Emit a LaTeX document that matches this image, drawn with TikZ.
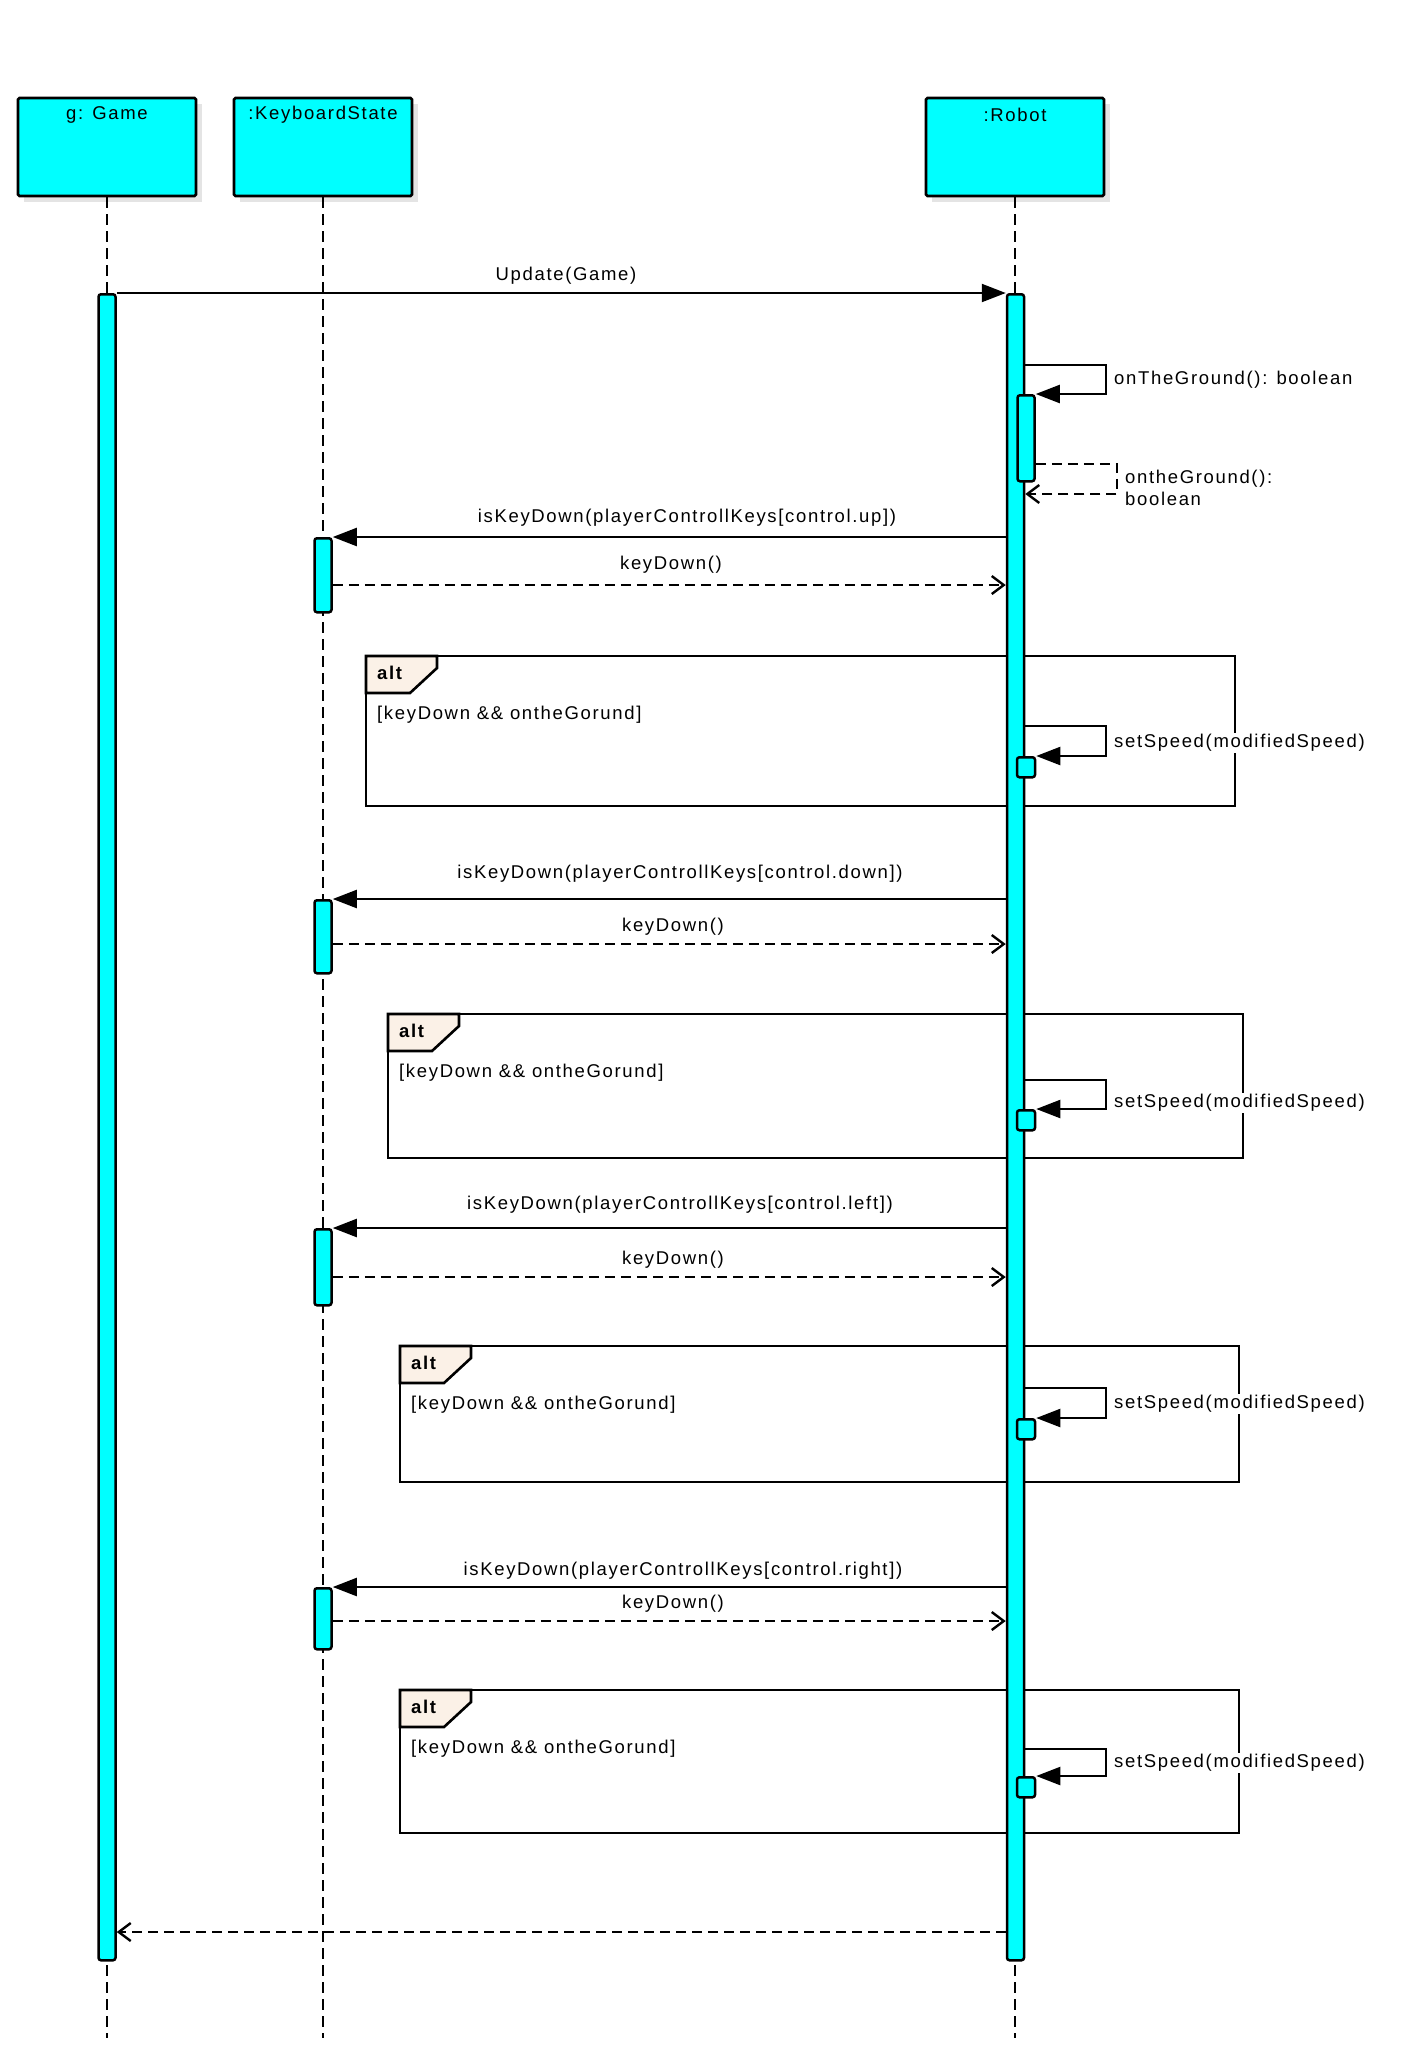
\documentclass[tikz,border=0pt]{standalone}
\usepackage{fontspec}
\setmainfont{Liberation Sans}[LetterSpace=9]
\usetikzlibrary{arrows.meta}
\newcommand\dfont{\fontsize{18.5}{22}\selectfont}
\definecolor{cy}{HTML}{00FFFF}
\definecolor{tabc}{HTML}{FBF1E7}
\definecolor{shc}{HTML}{E4E4E4}
\begin{document}
\begin{tikzpicture}[x=1pt,y=-1pt,
 head/.style={draw, line width=2.7pt, fill=cy, minimum width=178pt, minimum height=98pt, rounded corners=1.5pt, inner sep=0pt},
 act/.style={draw, line width=2.5pt, fill=cy, rounded corners=2.5pt, inner sep=0pt, minimum width=17pt},
 life/.style={line width=2.2pt, dash pattern=on 11pt off 6pt},
 msg/.style={line width=2.2pt, -{Triangle[length=24pt,width=18pt]}},
 ret/.style={line width=2.4pt, dash pattern=on 10pt off 6pt, -{Straight Barb[length=12pt,width=18pt,line width=2.4pt]}},
 lbl/.style={inner sep=0pt, font=\dfont},
 slbl/.style={inner sep=1pt, font=\dfont, fill=white, anchor=west},
 frm/.style={line width=2.6pt},
 tab/.style={line width=2.6pt, fill=tabc},
]
\useasboundingbox (0,0) rectangle (1410,2051);
% shadows
\fill[shc] (24,104) rectangle (202,202);
\fill[shc] (240,104) rectangle (418,202);
\fill[shc] (932,104) rectangle (1110,202);
% heads
\node[head] (g) at (107,147) {};
\node[head] (k) at (323,147) {};
\node[head] (r) at (1015,147) {};
\node[lbl] (gt) at (107,115) {g: Game};
\node[lbl] (kt) at (323,115) {:KeyboardState};
\node[lbl] (rt) at (1015,115) {:Robot};
% lifelines
\coordinate (gend) at (107,2038);
\coordinate (kend) at (323,2038);
\coordinate (rend) at (1015,2038);
\draw[life] (g.south) -- (gend);
\draw[life] (k.south) -- (kend);
\draw[life] (r.south) -- (rend);
% frames
\draw[frm] (366,656) rectangle (1235,806);
\draw[tab] (366,656) -- (437,656) -- (437,668) -- (410,693) -- (366,693) -- cycle;
\node[lbl, anchor=west, font=\dfont\bfseries] (f1a) at (377,673) {alt};
\node[lbl, anchor=west] (f1g) at (377,715) {[keyDown \&\& ontheGorund]};
\draw[frm] (388,1014) rectangle (1243,1158);
\draw[tab] (388,1014) -- (459,1014) -- (459,1026) -- (432,1051) -- (388,1051) -- cycle;
\node[lbl, anchor=west, font=\dfont\bfseries] (f2a) at (399,1031) {alt};
\node[lbl, anchor=west] (f2g) at (399,1073) {[keyDown \&\& ontheGorund]};
\draw[frm] (400,1346) rectangle (1239,1482);
\draw[tab] (400,1346) -- (471,1346) -- (471,1358) -- (444,1383) -- (400,1383) -- cycle;
\node[lbl, anchor=west, font=\dfont\bfseries] (f3a) at (411,1363) {alt};
\node[lbl, anchor=west] (f3g) at (411,1405) {[keyDown \&\& ontheGorund]};
\draw[frm] (400,1690) rectangle (1239,1833);
\draw[tab] (400,1690) -- (471,1690) -- (471,1702) -- (444,1727) -- (400,1727) -- cycle;
\node[lbl, anchor=west, font=\dfont\bfseries] (f4a) at (411,1707) {alt};
\node[lbl, anchor=west] (f4g) at (411,1749) {[keyDown \&\& ontheGorund]};
% activations
\node[act, anchor=north, minimum height=1666pt] (ag) at (107,293) {};
\node[act, anchor=north, minimum height=1666pt] (ar) at (1015.5,293) {};
\node[act, anchor=north, minimum height=86pt] (ar2) at (1026,394) {};
\node[act, anchor=north, minimum height=74pt] (k1) at (323,537) {};
\node[act, anchor=north, minimum height=73pt] (k2) at (323,899) {};
\node[act, anchor=north, minimum height=76pt] (k3) at (323,1228) {};
\node[act, anchor=north, minimum height=61pt] (k4) at (323,1587) {};
\node[act, anchor=north, minimum height=20pt, minimum width=18pt] (s1) at (1026,756) {};
\node[act, anchor=north, minimum height=20pt, minimum width=18pt] (s2) at (1026,1109) {};
\node[act, anchor=north, minimum height=20pt, minimum width=18pt] (s3) at (1026,1418) {};
\node[act, anchor=north, minimum height=20pt, minimum width=18pt] (s4) at (1026,1776) {};
% messages
\draw[msg] (ag.east |- 0,293) -- (ar.west |- 0,293);
\node[lbl] (m1) at (566,276) {Update(Game)};
\draw[msg] (ar.east |- 0,365) -- (1106,365) -- (1106,394) -- (ar2.north east);
\node[slbl] (m2) at (1113,380) {onTheGround(): boolean};
\draw[ret] (ar2.east |- 0,464) -- (1117,464) -- (1117,494) -- (ar.east |- 0,494);
\node[lbl, anchor=north west, align=left, fill=white, inner sep=1pt] (m3) at (1124,469) {ontheGround():\\boolean};
% up
\draw[msg] (ar.west |- 0,537) -- (k1.north east);
\node[lbl] (m4) at (687,518) {isKeyDown(playerControllKeys[control.up])};
\draw[ret] (k1.east |- 0,585) -- (ar.west |- 0,585);
\node[lbl] (m5) at (671,565) {keyDown()};
\draw[msg] (ar.east |- 0,726) -- (1106,726) -- (1106,756) -- (s1.north east);
\node[slbl] (m6) at (1113,743) {setSpeed(modifiedSpeed)};
% down
\draw[msg] (ar.west |- 0,899) -- (k2.north east);
\node[lbl] (m7) at (680,874) {isKeyDown(playerControllKeys[control.down])};
\draw[ret] (k2.east |- 0,944) -- (ar.west |- 0,944);
\node[lbl] (m8) at (673,927) {keyDown()};
\draw[msg] (ar.east |- 0,1080) -- (1106,1080) -- (1106,1109) -- (s2.north east);
\node[slbl] (m9) at (1113,1103) {setSpeed(modifiedSpeed)};
% left
\draw[msg] (ar.west |- 0,1228) -- (k3.north east);
\node[lbl] (m10) at (680,1205) {isKeyDown(playerControllKeys[control.left])};
\draw[ret] (k3.east |- 0,1277) -- (ar.west |- 0,1277);
\node[lbl] (m11) at (673,1260) {keyDown()};
\draw[msg] (ar.east |- 0,1388) -- (1106,1388) -- (1106,1418) -- (s3.north east);
\node[slbl] (m12) at (1113,1404) {setSpeed(modifiedSpeed)};
% right
\draw[msg] (ar.west |- 0,1587) -- (k4.north east);
\node[lbl] (m13) at (683,1571) {isKeyDown(playerControllKeys[control.right])};
\draw[ret] (k4.east |- 0,1621) -- (ar.west |- 0,1621);
\node[lbl] (m14) at (673,1604) {keyDown()};
\draw[msg] (ar.east |- 0,1749) -- (1106,1749) -- (1106,1776) -- (s4.north east);
\node[slbl] (m15) at (1113,1763) {setSpeed(modifiedSpeed)};
% return
\draw[ret] (ar.west |- 0,1932) -- (ag.east |- 0,1932);
\end{tikzpicture}
\end{document}
